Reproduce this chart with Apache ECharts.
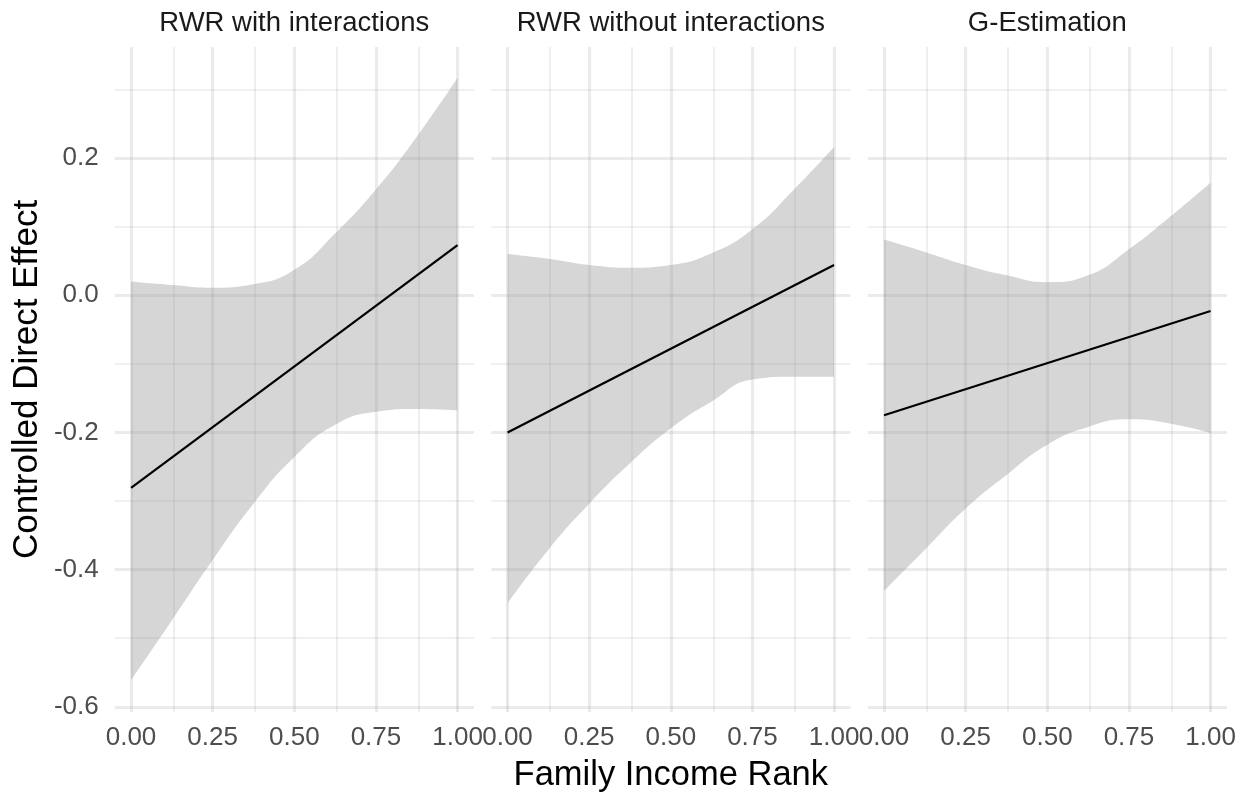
<!DOCTYPE html>
<html>
<head>
<meta charset="utf-8">
<script src="https://cdn.jsdelivr.net/npm/echarts@6/dist/echarts.min.js"></script>
<style>
  html, body { margin: 0; padding: 0; background: #fff; }
  #chart { width: 1243px; height: 796px; }
</style>
</head>
<body>
<div id="chart"></div>
<script>
// facet titles
const panels = ['RWR with interactions', 'RWR without interactions', 'G-Estimation']

// x positions where the ribbon was read
const xs = [0, 0.125, 0.25, 0.375, 0.5, 0.625, 0.75, 0.875, 1]

// fitted line, value at x = 0 and x = 1
const fitWith = [-0.281, 0.073]
const fitWithout = [-0.2, 0.044]
const fitG = [-0.175, -0.023]

// confidence band
const upperWith = [0.020, 0.015, 0.011, 0.016, 0.037, 0.090, 0.154, 0.231, 0.317]
const lowerWith = [-0.561, -0.474, -0.386, -0.304, -0.236, -0.189, -0.170, -0.166, -0.168]
const upperWithout = [0.060, 0.053, 0.044, 0.040, 0.044, 0.061, 0.096, 0.153, 0.216]
const lowerWithout = [-0.449, -0.371, -0.304, -0.245, -0.194, -0.155, -0.123, -0.119, -0.119]
const upperG = [0.081, 0.063, 0.044, 0.029, 0.019, 0.029, 0.067, 0.114, 0.164]
const lowerG = [-0.431, -0.371, -0.311, -0.262, -0.218, -0.192, -0.181, -0.187, -0.201]

// ticks / grid lines
const xTicks = [0, 0.25, 0.5, 0.75, 1]
const xMinor = [0.125, 0.375, 0.625, 0.875]
const yTicks = [-0.6, -0.4, -0.2, 0, 0.2]
const yMinor = [-0.5, -0.3, -0.1, 0.1, 0.3]

const fits = [fitWith, fitWithout, fitG]
const uppers = [upperWith, upperWithout, upperG]
const lowers = [lowerWith, lowerWithout, lowerG]

const FONT = 'Liberation Sans, Arial, sans-serif'
const gridLefts = [114.7, 491.2, 867.7]
const gridW = 359.2
const gridTop = 47
const gridH = 665
const X_MIN = -0.05, X_MAX = 1.05
const Y_MIN = -0.6075, Y_MAX = 0.3617
// drawn on top of the ribbon: gives #EBEBEB on white, darker inside the band
const gridColor = 'rgba(153,153,153,0.195)'

const chart = echarts.init(document.getElementById('chart'))

const grid = gridLefts.map(l => ({ left: l, top: gridTop, width: gridW, height: gridH }))

const xAxis = gridLefts.map((l, i) => ({
  type: 'value',
  gridIndex: i,
  min: X_MIN,
  max: X_MAX,
  axisLine: { show: false },
  axisTick: { show: false },
  splitLine: { show: false },
  axisLabel: {
    customValues: xTicks,
    formatter: v => v.toFixed(2),
    color: '#4D4D4D',
    fontSize: 26,
    fontFamily: FONT,
    margin: 13
  }
}))

const yAxis = gridLefts.map((l, i) => ({
  type: 'value',
  gridIndex: i,
  min: Y_MIN,
  max: Y_MAX,
  axisLine: { show: false },
  axisTick: { show: false },
  splitLine: { show: false },
  axisLabel: {
    show: i === 0,
    customValues: yTicks,
    formatter: v => v.toFixed(1),
    color: '#4D4D4D',
    fontSize: 26,
    fontFamily: FONT,
    margin: 16
  },
  name: i === 0 ? 'Controlled Direct Effect' : '',
  nameLocation: 'middle',
  nameRotate: 90,
  nameGap: 70,
  nameTextStyle: { color: '#000', fontSize: 35, fontFamily: FONT }
}))

function gridLines() {
  const major = { color: gridColor, width: 3.1, type: 'solid' }
  const minor = { color: gridColor, width: 1.6, type: 'solid' }
  return []
    .concat(yTicks.map(v => ({ yAxis: v, lineStyle: major })))
    .concat(yMinor.map(v => ({ yAxis: v, lineStyle: minor })))
    .concat(xTicks.map(v => ({ xAxis: v, lineStyle: major })))
    .concat(xMinor.map(v => ({ xAxis: v, lineStyle: minor })))
}

const series = []
panels.forEach((name, i) => {
  // band: grey down to the axis bottom, then white below the lower bound
  series.push({
    type: 'line',
    xAxisIndex: i,
    yAxisIndex: i,
    data: xs.map((x, j) => [x, uppers[i][j]]),
    smooth: true,
    symbol: 'none',
    lineStyle: { width: 0, opacity: 0 },
    areaStyle: { color: 'rgb(214,214,214)', opacity: 1, origin: 'start' },
    z: 2,
    silent: true
  })
  series.push({
    type: 'line',
    xAxisIndex: i,
    yAxisIndex: i,
    data: xs.map((x, j) => [x, lowers[i][j]]),
    smooth: true,
    symbol: 'none',
    lineStyle: { width: 0, opacity: 0 },
    areaStyle: { color: '#ffffff', opacity: 1, origin: 'start' },
    z: 3,
    silent: true
  })
  // grid lines
  series.push({
    type: 'line',
    xAxisIndex: i,
    yAxisIndex: i,
    data: [],
    z: 4,
    silent: true,
    markLine: {
      silent: true,
      symbol: ['none', 'none'],
      label: { show: false },
      emphasis: { disabled: true },
      animation: false,
      data: gridLines()
    }
  })
  // fitted line
  series.push({
    type: 'line',
    xAxisIndex: i,
    yAxisIndex: i,
    data: [[0, fits[i][0]], [1, fits[i][1]]],
    symbol: 'none',
    lineStyle: { color: '#000', width: 2.2 },
    z: 5,
    silent: true
  })
})

const graphic = panels.map((name, i) => ({
  type: 'text',
  x: gridLefts[i] + gridW / 2,
  y: 23,
  style: {
    text: name,
    align: 'center',
    verticalAlign: 'middle',
    fill: '#1A1A1A',
    font: '27.5px ' + FONT
  }
}))
// x axis title, centred under the middle panel
graphic.push({
  type: 'text',
  x: gridLefts[1] + gridW / 2,
  y: 775,
  style: {
    text: 'Family Income Rank',
    align: 'center',
    verticalAlign: 'middle',
    fill: '#000',
    font: '34.5px ' + FONT
  }
})

chart.setOption({
  animation: false,
  backgroundColor: '#fff',
  grid,
  xAxis,
  yAxis,
  series,
  graphic
})
</script>
</body>
</html>
